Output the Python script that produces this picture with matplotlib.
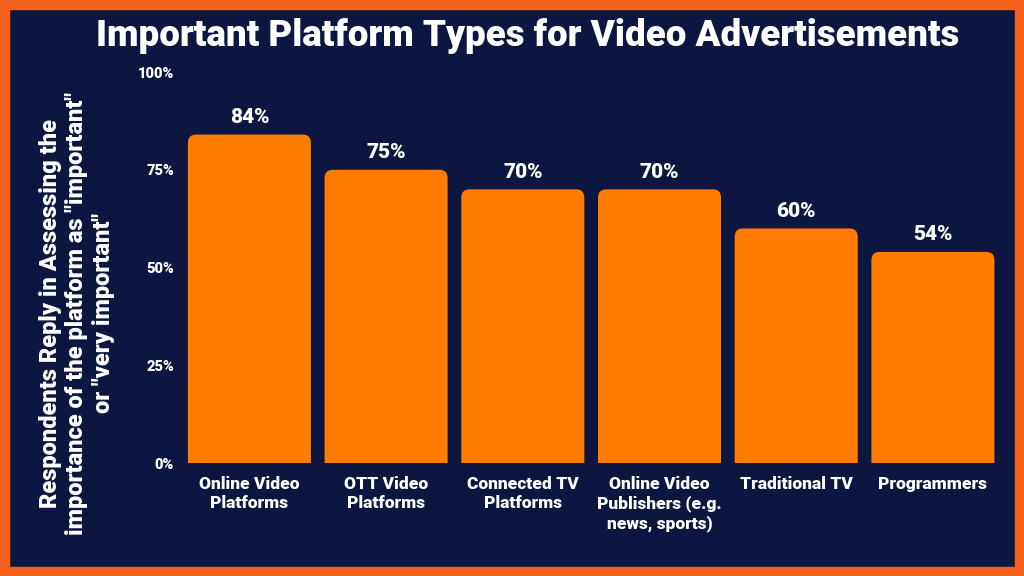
import matplotlib.pyplot as plt
from matplotlib.patches import FancyBboxPatch, Rectangle

categories = ['Online Video\nPlatforms', 'OTT Video\nPlatforms', 'Connected TV\nPlatforms',
              'Online Video\nPublishers (e.g.\nnews, sports)', 'Traditional TV', 'Programmers']
values = [84, 75, 70, 70, 60, 54]
yticks = [0, 25, 50, 75, 100]

bg = '#0c1640'
bar_color = '#ff7c00'
border = '#f4601c'

plt.rcParams['font.family'] = ['Roboto', 'DejaVu Sans']

fig = plt.figure(figsize=(10.24, 5.76), dpi=100, facecolor=bg)
fig.patches.append(Rectangle((0, 0), 1, 1, transform=fig.transFigure, fill=False,
                             edgecolor=border, linewidth=14, zorder=10))
ax = fig.add_axes([0.1768, 0.196, 0.801, 0.679])
ax.set_facecolor(bg)

x = range(len(values))
width = 0.9
for i, v in zip(x, values):
    # start below zero so only the top corners show as rounded
    ax.add_patch(FancyBboxPatch((i - width / 2, -10), width, v + 10,
                                boxstyle='round,pad=0,rounding_size=0.06',
                                mutation_aspect=35, color=bar_color, lw=0))
    ax.text(i, v + 2, f'{v}%', ha='center', va='bottom', color='white',
            fontsize=15, fontweight='heavy')

ax.set_xlim(-0.5, len(values) - 0.5)
ax.set_ylim(0, 100)
ax.set_xticks(list(x))
ax.set_xticklabels(categories, color='white', fontsize=12.5, fontweight='heavy',
                   linespacing=1.25)
ax.set_yticks(yticks)
ax.set_yticklabels([f'{t}%' for t in yticks], color='white', fontsize=10.5, fontweight='heavy')
ax.tick_params(axis='x', length=0, pad=9)
ax.tick_params(axis='y', length=0, pad=5)
for s in ax.spines.values():
    s.set_visible(False)

fig.text(0.515, 0.937, 'Important Platform Types for Video Advertisements', ha='center',
         va='center', color='white', fontsize=26.5, fontweight='heavy')
fig.text(0.075, 0.456, 'Respondents Reply in Assessing the\nimportance of the platform as "important"\nor "very important"',
         rotation=90, ha='center', va='center', color='white', fontsize=17,
         fontweight='heavy', linespacing=1.2)

fig.savefig('out.png', dpi=100, facecolor=bg)
